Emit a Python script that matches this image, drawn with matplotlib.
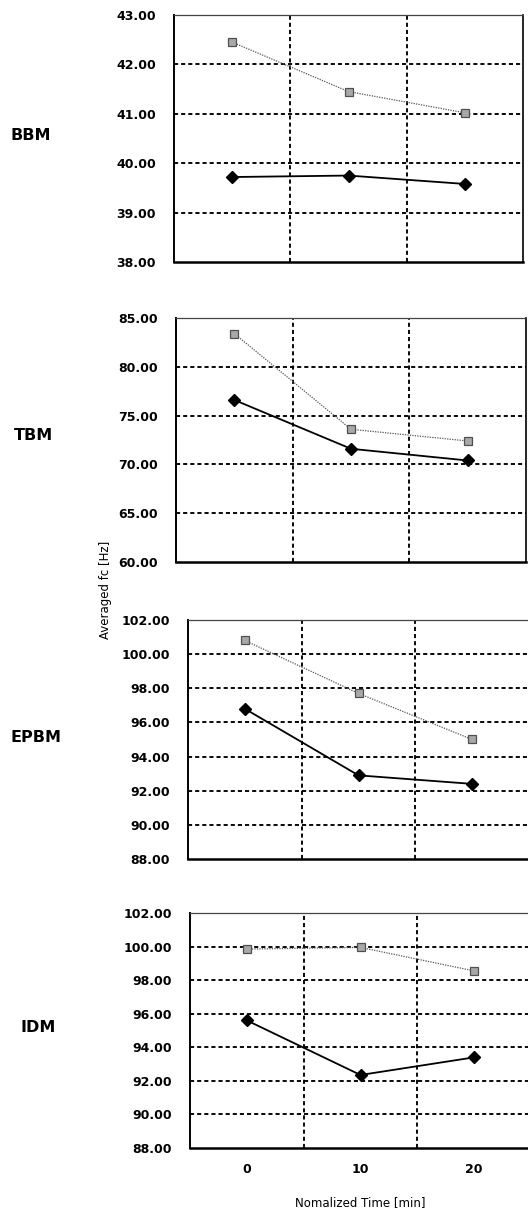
import matplotlib
matplotlib.use("Agg")
import matplotlib.pyplot as plt
import numpy as np

plt.rcParams['font.family'] = ['DejaVu Sans']

times = [0, 10, 20]
panels = ["BBM", "TBM", "EPBM", "IDM"]

# grey square series (upper) and black diamond series (lower)
grey_vals = {
    "BBM": [42.45, 41.45, 41.02],
    "TBM": [83.4, 73.6, 72.4],
    "EPBM": [100.8, 97.7, 95.0],
    "IDM": [99.85, 99.95, 98.55],
}
black_vals = {
    "BBM": [39.72, 39.75, 39.58],
    "TBM": [76.6, 71.6, 70.4],
    "EPBM": [96.8, 92.9, 92.4],
    "IDM": [95.6, 92.35, 93.4],
}
y_ranges = {
    "BBM": (38, 43, 1),
    "TBM": (60, 85, 5),
    "EPBM": (88, 102, 2),
    "IDM": (88, 102, 2),
}

W, H = 528, 1211
fig = plt.figure(figsize=(W / 100, H / 100), dpi=100)

# pixel boxes: left, top, right, bottom
boxes = {
    "BBM": (174, 15, 523, 262),
    "TBM": (176, 318, 526, 562),
    "EPBM": (188, 620, 529, 859),
    "IDM": (190, 913, 531, 1148),
}
label_pos = {"BBM": (31, 135), "TBM": (33, 435), "EPBM": (36, 737), "IDM": (38, 1027)}

for name in panels:
    l, t, r, b = boxes[name]
    ax = fig.add_axes([l / W, 1 - b / H, (r - l) / W, (b - t) / H])
    x = np.arange(len(times))
    ax.plot(x, grey_vals[name], color="#555555", linestyle=(0, (1, 1)), linewidth=0.9,
            marker="s", markersize=6, markerfacecolor="#a8a8a8", markeredgecolor="#505050",
            markeredgewidth=0.9, zorder=3)
    ax.plot(x, black_vals[name], color="black", linestyle="-", linewidth=1.3,
            marker="D", markersize=6.5, markerfacecolor="black", markeredgecolor="black", zorder=3)
    lo, hi, step = y_ranges[name]
    ax.set_ylim(lo, hi)
    ax.set_xlim(-0.5, len(times) - 0.5)
    yt = np.arange(lo, hi + step / 2, step)
    ax.set_yticks(yt)
    ax.set_yticklabels([f"{v:.2f}" for v in yt], fontsize=9, fontweight="bold")
    for v in yt[1:-1]:
        ax.axhline(v, color="black", linestyle=(0, (2.2, 1.6)), linewidth=1.35, zorder=1)
    for v in x[:-1] + 0.5:
        ax.axvline(v, color="black", linestyle=(0, (2.2, 1.6)), linewidth=1.35, zorder=1)
    ax.tick_params(axis="y", length=0, pad=13)
    ax.tick_params(axis="x", length=0, pad=11)
    ax.set_xticks(x)
    if name == "IDM":
        ax.set_xticklabels([str(v) for v in times], fontsize=9, fontweight="bold")
    else:
        ax.set_xticklabels([])
    ax.spines["left"].set_linewidth(1.4)
    ax.spines["bottom"].set_linewidth(1.8)
    ax.spines["top"].set_linestyle((0, (1, 1)))
    ax.spines["top"].set_color("#444444")
    ax.spines["top"].set_linewidth(0.9)
    ax.spines["right"].set_linewidth(1.2)
    lx, ly = label_pos[name]
    fig.text(lx / W, 1 - ly / H, name, fontsize=11.5, fontweight="bold", ha="center", va="center")

fig.text(105 / W, 1 - 590 / H, "Averaged fc [Hz]", fontsize=8.5, rotation=90, ha="center", va="center")
fig.text(360 / W, 1 - 1203 / H, "Nomalized Time [min]", fontsize=8.5, ha="center", va="center")

fig.savefig("out.png", dpi=100)
